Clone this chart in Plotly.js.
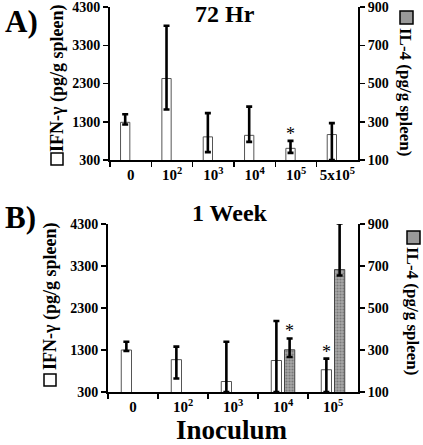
<!DOCTYPE html>
<html><head><meta charset="utf-8">
<script src="https://cdn.plot.ly/plotly-3.0.1.min.js"></script>
<style>html,body{margin:0;padding:0;background:#fff;}#chart{width:423px;height:445px;}</style>
</head><body><div id="chart"></div>
<script>
// Panel A (72 Hr)
const categoriesA = ['0','10<sup>2</sup>','10<sup>3</sup>','10<sup>4</sup>','10<sup>5</sup>','5x10<sup>5</sup>'];
const ifnA = [1285, 2430, 905, 945, 605, 965];
const ifnAPlus = [210, 1380, 620, 750, 195, 300];
const ifnAMinus = [55, 810, 400, 170, 120, 665];
// Panel B (1 Week)
const categoriesB = ['0','10<sup>2</sup>','10<sup>3</sup>','10<sup>4</sup>','10<sup>5</sup>'];
const ifnB = [1300, 1070, 550, 1050, 830];
const ifnBPlus = [195, 310, 945, 940, 265];
const ifnBMinus = [25, 450, 250, 750, 530];
const il4B = [null, null, null, 301, 683];
const il4BPlus = [0, 0, 0, 54, 220];
const il4BMinus = [0, 0, 0, 34, 28];
const starsA = ['', '', '', '', '*', ''];
const starsBifn = ['', '', '', '', '*'];
const starsBil4 = ['', '', '', '*', '**'];

const serif = 'Liberation Serif';
const errStyle = {type:'data', symmetric:false, color:'#000', thickness:2.6, width:3};

const wA = 0.225, wB = 0.205;
const traces = [
  {type:'bar', x:categoriesA, y:ifnA, xaxis:'x', yaxis:'y', width:wA, offset:-0.245,
   marker:{color:'#fff', line:{color:'#555', width:1}},
   error_y:Object.assign({array:ifnAPlus, arrayminus:ifnAMinus}, errStyle), showlegend:false},
  {type:'bar', x:categoriesB, y:ifnB, xaxis:'x2', yaxis:'y3', width:wB, offset:-0.235,
   marker:{color:'#fff', line:{color:'#555', width:1}},
   error_y:Object.assign({array:ifnBPlus, arrayminus:ifnBMinus}, errStyle), showlegend:false},
  {type:'bar', x:categoriesB, y:il4B, xaxis:'x2', yaxis:'y4', width:wB, offset:0.03,
   marker:{color:'#9a9a9a', line:{color:'#444', width:1},
     pattern:{shape:'.', fgcolor:'#7a7a7a', bgcolor:'#a8a8a8', size:3, solidity:0.4}},
   error_y:Object.assign({array:il4BPlus, arrayminus:il4BMinus}, errStyle), showlegend:false}
];

const annotations = [];
function addStars(cats, stars, vals, plus, xref, yref, off){
  cats.forEach((c,i)=>{
    if(stars[i]) annotations.push({xref:xref, yref:yref, x:i+off, y:vals[i]+plus[i],
      text:stars[i], showarrow:false, yanchor:'bottom', yshift:-5,
      font:{family:serif, size:18, color:'#000'}});
  });
}
addStars(categoriesA, starsA, ifnA, ifnAPlus, 'x', 'y', -0.133);
addStars(categoriesB, starsBifn, ifnB, ifnBPlus, 'x2', 'y3', -0.133);
addStars(categoriesB, starsBil4, il4B, il4BPlus, 'x2', 'y4', 0.133);

function pa(px){return px/423;}
function pb(py){return 1-py/445;}
const fb = {family:serif, color:'#000', weight:'bold'};
annotations.push(
  {xref:'paper', yref:'paper', x:pa(3), y:pb(22), xanchor:'left', yanchor:'middle', text:'A)', showarrow:false, font:Object.assign({size:31},fb)},
  {xref:'paper', yref:'paper', x:pa(3), y:pb(217), xanchor:'left', yanchor:'middle', text:'B)', showarrow:false, font:Object.assign({size:31},fb)},
  {xref:'paper', yref:'paper', x:pa(225), y:pb(14), xanchor:'center', yanchor:'middle', text:'72 Hr', showarrow:false, font:Object.assign({size:24},fb)},
  {xref:'paper', yref:'paper', x:pa(230), y:pb(213), xanchor:'center', yanchor:'middle', text:'1 Week', showarrow:false, font:Object.assign({size:24},fb)},
  {xref:'paper', yref:'paper', x:pa(232), y:pb(430), xanchor:'center', yanchor:'middle', text:'Inoculum', showarrow:false, font:Object.assign({size:27},fb)},
  {xref:'paper', yref:'paper', x:pa(57), y:pb(79), xanchor:'center', yanchor:'middle', textangle:-90, text:'IFN-γ (pg/g spleen)', showarrow:false, font:Object.assign({size:18},fb)},
  {xref:'paper', yref:'paper', x:pa(50), y:pb(297), xanchor:'center', yanchor:'middle', textangle:-90, text:'IFN-γ (pg/g spleen)', showarrow:false, font:Object.assign({size:18},fb)},
  {xref:'paper', yref:'paper', x:pa(406), y:pb(92), xanchor:'center', yanchor:'middle', textangle:90, text:'IL-4 (pg/g spleen)', showarrow:false, font:Object.assign({size:17},fb)},
  {xref:'paper', yref:'paper', x:pa(413), y:pb(311), xanchor:'center', yanchor:'middle', textangle:90, text:'IL-4 (pg/g spleen)', showarrow:false, font:Object.assign({size:17},fb)}
);

const shapes = [
  {type:'rect', xref:'paper', yref:'paper', x0:pa(51), x1:pa(63), y0:pb(165), y1:pb(153), fillcolor:'#fff', line:{color:'#000', width:1.5}},
  {type:'rect', xref:'paper', yref:'paper', x0:pa(44), x1:pa(56), y0:pb(386), y1:pb(374), fillcolor:'#fff', line:{color:'#000', width:1.5}},
  {type:'rect', xref:'paper', yref:'paper', x0:pa(400), x1:pa(413), y0:pb(24), y1:pb(11), fillcolor:'#999', line:{color:'#000', width:1.5}},
  {type:'rect', xref:'paper', yref:'paper', x0:pa(407), x1:pa(420), y0:pb(244), y1:pb(231), fillcolor:'#999', line:{color:'#000', width:1.5}}
];

const tickFont = {family:serif, size:14, color:'#000', weight:'bold'};
const xCommon = {type:'category', showline:true, linecolor:'#000', linewidth:2, ticks:'outside', tickson:'boundaries',
  ticklen:5, tickwidth:1.5, tickcolor:'#000', showgrid:false, zeroline:false, fixedrange:true,
  tickfont:{family:serif, size:15, color:'#000', weight:'bold'}};
const yL = {showline:true, linecolor:'#000', linewidth:2, ticks:'outside', ticklen:5, tickwidth:1.5, tickcolor:'#000',
  showgrid:false, zeroline:false, range:[300,4300], tickmode:'linear', tick0:300, dtick:1000, tickfont:tickFont,
  ticklabeloverflow:'allow'};
const yR = {showline:true, linecolor:'#000', linewidth:2, ticks:'outside', ticklen:5, tickwidth:1.5, tickcolor:'#000',
  showgrid:false, zeroline:false, range:[100,900], tickmode:'linear', tick0:100, dtick:200, tickfont:tickFont, side:'right',
  ticklabeloverflow:'allow'};

const layout = {
  width:423, height:445, margin:{l:0,r:0,t:0,b:0}, paper_bgcolor:'#fff', plot_bgcolor:'rgba(0,0,0,0)',
  barmode:'overlay', showlegend:false,
  xaxis:Object.assign({}, xCommon, {domain:[pa(110), pa(358)], anchor:'y', range:[-0.5,5.5]}),
  yaxis:Object.assign({}, yL, {domain:[pb(160), pb(7)], anchor:'x'}),
  yaxis2:Object.assign({}, yR, {domain:[pb(160), pb(7)], anchor:'x', overlaying:'y'}),
  xaxis2:Object.assign({}, xCommon, {domain:[pa(108), pa(358)], anchor:'y3', range:[-0.5,4.5]}),
  yaxis3:Object.assign({}, yL, {domain:[pb(392), pb(224)], anchor:'x2'}),
  yaxis4:Object.assign({}, yR, {domain:[pb(392), pb(224)], anchor:'x2', overlaying:'y3'}),
  annotations:annotations, shapes:shapes
};
// empty IL-4 trace so the right axis of panel A is drawn
traces.push({type:'bar', x:categoriesA, y:categoriesA.map(()=>null), xaxis:'x', yaxis:'y2', showlegend:false, hoverinfo:'skip'});
Plotly.newPlot('chart', traces, layout, {staticPlot:true});
</script></body></html>
